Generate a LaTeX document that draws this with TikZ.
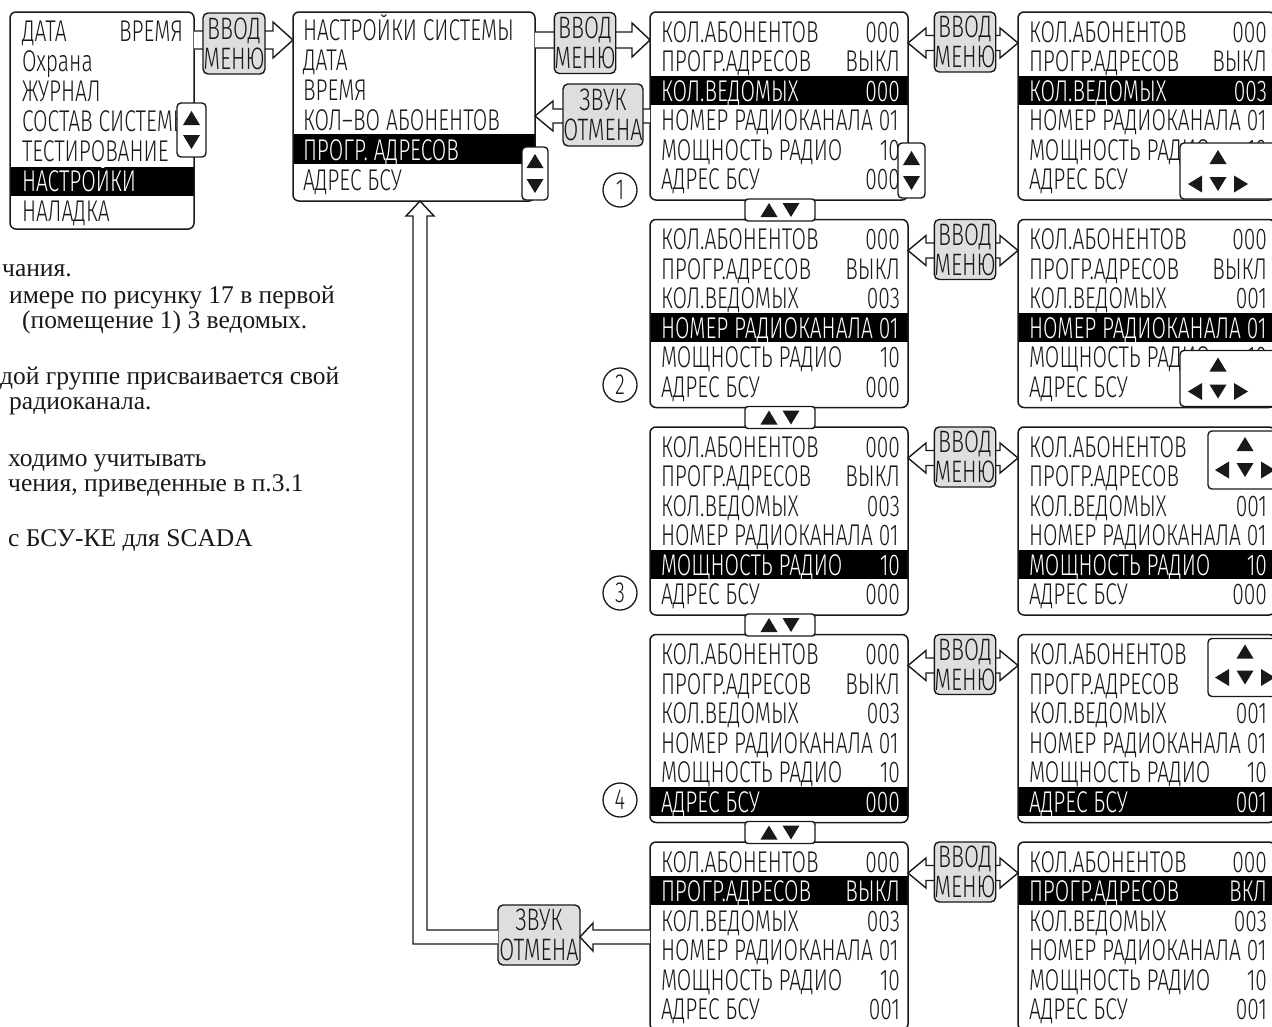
\documentclass[tikz,border=0pt]{standalone}
\usepackage{fontspec}
\newfontfamily\lcdf[FakeStretch=0.70]{Fira Sans Light}
\newfontfamily\serf{Liberation Serif}
\usetikzlibrary{calc}
\definecolor{txt}{gray}{0.1}
\definecolor{btnfill}{gray}{0.87}
\newcount\nodeid
\newcommand\setrc[2]{\ifnum#1=#2\relax\def\rc{white}\else\def\rc{txt}\fi}
\newcommand\srow[6]{%
 \global\advance\nodeid by 1 \edef\nn{n\the\nodeid}%
 \node[lcd,anchor=base west,text=\rc] (\nn) at ({#1+11},{#3+30+29.5*#4}) {#5};
 \global\advance\nodeid by 1 \edef\nn{n\the\nodeid}%
 \node[lcd,anchor=base east,text=\rc] (\nn) at ({#2-8},{#3+30+29.5*#4}) {#6};}
\newcommand\slab[4]{%
 \global\advance\nodeid by 1 \edef\nn{n\the\nodeid}%
 \node[lcd,anchor=base west,text=\rc] (\nn) at ({#1+11},{#2+30+29.5*#3}) {#4};}
% name, left, right, top, highlighted row, values of rows 0,1,2,5
\newcommand\screen[9]{%
 \fill[black] (#2,{#4+4.5+29.5*#5}) rectangle (#3,{#4+33.5+29.5*#5});
 \node[scr,minimum width={#3-#2},minimum height=188,anchor=north west] (#1) at (#2,#4) {};
 \setrc{#5}{0}\srow{#2}{#3}{#4}{0}{КОЛ.АБОНЕНТОВ}{#6}
 \setrc{#5}{1}\srow{#2}{#3}{#4}{1}{ПРОГР.АДРЕСОВ}{#7}
 \setrc{#5}{2}\srow{#2}{#3}{#4}{2}{КОЛ.ВЕДОМЫХ}{#8}
 \setrc{#5}{3}\slab{#2}{#4}{3}{НОМЕР РАДИОКАНАЛА 01}
 \setrc{#5}{4}\srow{#2}{#3}{#4}{4}{МОЩНОСТЬ РАДИО}{10}
 \setrc{#5}{5}\srow{#2}{#3}{#4}{5}{АДРЕС БСУ}{#9}}
% hollow arrows: from, to, centre y, shaft half width, head half width, head length
\newcommand\arrR[6]{\path[hol] let \p1=(#1.east), \p2=(#2.west) in
 (\x1,{-(#3-#4)*1pt}) -- ({\x2-#6pt},{-(#3-#4)*1pt}) -- ({\x2-#6pt},{-(#3-#5)*1pt}) -- (\x2,{-#3pt})
 -- ({\x2-#6pt},{-(#3+#5)*1pt}) -- ({\x2-#6pt},{-(#3+#4)*1pt}) -- (\x1,{-(#3+#4)*1pt});}
\newcommand\arrL[6]{\path[hol] let \p1=(#1.west), \p2=(#2.east) in
 (\x1,{-(#3-#4)*1pt}) -- ({\x2+#6pt},{-(#3-#4)*1pt}) -- ({\x2+#6pt},{-(#3-#5)*1pt}) -- (\x2,{-#3pt})
 -- ({\x2+#6pt},{-(#3+#5)*1pt}) -- ({\x2+#6pt},{-(#3+#4)*1pt}) -- (\x1,{-(#3+#4)*1pt});}
\newcommand\arrLR[6]{\path[hol] let \p1=(#1.east), \p2=(#2.west) in
 (\x1,{-#3pt}) -- ({\x1+#6pt},{-(#3-#5)*1pt}) -- ({\x1+#6pt},{-(#3-#4)*1pt}) -- ({\x2-#6pt},{-(#3-#4)*1pt})
 -- ({\x2-#6pt},{-(#3-#5)*1pt}) -- (\x2,{-#3pt}) -- ({\x2-#6pt},{-(#3+#5)*1pt}) -- ({\x2-#6pt},{-(#3+#4)*1pt})
 -- ({\x1+#6pt},{-(#3+#4)*1pt}) -- ({\x1+#6pt},{-(#3+#5)*1pt}) -- cycle;}
% triangles
\newcommand\tU[2]{\fill[txt] ({#1-8.5},{#2+7}) -- ({#1+8.5},{#2+7}) -- (#1,{#2-7}) -- cycle;}
\newcommand\tD[2]{\fill[txt] ({#1-8.5},{#2-7}) -- ({#1+8.5},{#2-7}) -- (#1,{#2+7}) -- cycle;}
\newcommand\tLf[2]{\fill[txt] ({#1+7},{#2-8.5}) -- ({#1+7},{#2+8.5}) -- ({#1-7},#2) -- cycle;}
\newcommand\tRt[2]{\fill[txt] ({#1-7},{#2-8.5}) -- ({#1-7},{#2+8.5}) -- ({#1+7},#2) -- cycle;}
\begin{document}
\begin{tikzpicture}[x=1pt,y=-1pt,
 scr/.style={draw=txt,line width=1.5pt,rounded corners=6pt,inner sep=0pt,outer sep=0pt},
 ov/.style={draw=txt,fill=white,line width=1.4pt,rounded corners=4pt,inner sep=0pt,outer sep=0pt,anchor=north west},
 btn/.style={draw=txt,fill=btnfill,line width=1.4pt,rounded corners=5pt,inner sep=0pt,outer sep=0pt,align=center,text=txt,font=\lcdf\fontsize{31}{30}\selectfont},
 hol/.style={draw=txt,line width=1.4pt,fill=white,line join=miter},
 lcd/.style={inner sep=0pt,outer sep=0pt,font=\lcdf\fontsize{30}{30}\selectfont},
 ser/.style={inner sep=0pt,anchor=base west,text=txt,font=\serf\fontsize{25.5}{25}\selectfont},
 circ/.style={circle,draw=txt,line width=1.3pt,minimum size=34pt,inner sep=0pt,text=txt,font=\lcdf\fontsize{29}{29}\selectfont}]
\useasboundingbox (0,0) rectangle (1272,1026);
\fill[white] (0,0) rectangle (1272,1026);

% ---- main menu
\fill[black] (10,166.5) rectangle (194,195.5);
\node[scr,minimum width=184,minimum height=217,anchor=north west] (A) at (10,12) {};
\node[lcd,anchor=base west,text=txt] (a1) at (22,41.5) {ДАТА};
\node[lcd,anchor=base east,text=txt] (a2) at (183,41.5) {ВРЕМЯ};
\node[lcd,anchor=base west,text=txt] (a3) at (22,71.5) {Охрана};
\node[lcd,anchor=base west,text=txt] (a4) at (22,101.5) {ЖУРНАЛ};
\node[lcd,anchor=base west,text=txt] (a5) at (22,131.5) {СОСТАВ СИСТЕМЫ};
\node[lcd,anchor=base west,text=txt] (a6) at (22,161.5) {ТЕСТИРОВАНИЕ};
\node[lcd,anchor=base west,text=white] (a7) at (22,191.5) {НАСТРОЙКИ};
\node[lcd,anchor=base west,text=txt] (a8) at (22,221.5) {НАЛАДКА};

% ---- settings menu
\fill[black] (293,134) rectangle (535,164);
\node[scr,minimum width=242,minimum height=189,anchor=north west] (B) at (293,12) {};
\node[lcd,anchor=base west,text=txt] (b1) at (303,40) {НАСТРОЙКИ СИСТЕМЫ};
\node[lcd,anchor=base west,text=txt] (b2) at (303,70) {ДАТА};
\node[lcd,anchor=base west,text=txt] (b3) at (303,100) {ВРЕМЯ};
\node[lcd,anchor=base west,text=txt] (b4) at (303,130) {КОЛ–ВО АБОНЕНТОВ};
\node[lcd,anchor=base west,text=white] (b5) at (303,160) {ПРОГР. АДРЕСОВ};
\node[lcd,anchor=base west,text=txt] (b6) at (303,190) {АДРЕС БСУ};

% ---- screens
\screen{C1}{650}{908}{12}{2}{000}{ВЫКЛ}{000}{000}
\screen{D1}{1018}{1275}{12}{2}{000}{ВЫКЛ}{003}{000}
\screen{C2}{650}{908}{219.5}{3}{000}{ВЫКЛ}{003}{000}
\screen{D2}{1018}{1275}{219.5}{3}{000}{ВЫКЛ}{001}{000}
\screen{C3}{650}{908}{427}{4}{000}{ВЫКЛ}{003}{000}
\screen{D3}{1018}{1275}{427}{4}{000}{ВЫКЛ}{001}{000}
\screen{C4}{650}{908}{634.5}{5}{000}{ВЫКЛ}{003}{000}
\screen{D4}{1018}{1275}{634.5}{5}{000}{ВЫКЛ}{001}{001}
\screen{C5}{650}{908}{842}{1}{000}{ВЫКЛ}{003}{001}
\screen{D5}{1018}{1275}{842}{1}{000}{ВКЛ}{003}{001}

\node[btn,minimum width=82,minimum height=60] (Z2) at (539,935) {ЗВУК\\ОТМЕНА};

% ---- connectors
\arrR{A}{B}{40}{9}{18}{20}
\arrR{B}{C1}{40}{8}{17}{18}
\arrL{C1}{B}{116}{7}{15}{18}
\arrLR{C1}{D1}{43}{7.5}{15}{18}
\arrLR{C2}{D2}{250.5}{7.5}{15}{18}
\arrLR{C3}{D3}{458}{7.5}{15}{18}
\arrLR{C4}{D4}{665.5}{7.5}{15}{18}
\arrLR{C5}{D5}{873}{7.5}{15}{18}
\arrL{C5}{Z2}{937}{7}{14}{13}
\path[hol] let \p1=(Z2.west), \p2=(B.south) in
 (\x1,-930pt) -- (427pt,-930pt) -- (427pt,\y2-15pt) -- (434pt,\y2-15pt) -- (420pt,\y2)
 -- (406pt,\y2-15pt) -- (413pt,\y2-15pt) -- (413pt,-944pt) -- (\x1,-944pt);

% ---- buttons
\node[btn,minimum width=62,minimum height=61] (V1) at (234,43.5) {ВВОД\\МЕНЮ};
\node[btn,minimum width=60,minimum height=61] (V2) at (585,43) {ВВОД\\МЕНЮ};
\node[btn,minimum width=80,minimum height=62] (Z1) at (603,115) {ЗВУК\\ОТМЕНА};
\node[btn,minimum width=56,minimum height=60] (V3) at (965,42) {ВВОД\\МЕНЮ};
\node[btn,minimum width=56,minimum height=60] (V4) at (965,249.5) {ВВОД\\МЕНЮ};
\node[btn,minimum width=56,minimum height=60] (V5) at (965,457) {ВВОД\\МЕНЮ};
\node[btn,minimum width=56,minimum height=60] (V6) at (965,664.5) {ВВОД\\МЕНЮ};
\node[btn,minimum width=56,minimum height=60] (V7) at (965,872) {ВВОД\\МЕНЮ};

% ---- scroll keys
\node[ov,minimum width=29,minimum height=54] (sA) at (177,103) {};
\tU{191.5}{118}\tD{191.5}{142}
\node[ov,minimum width=26,minimum height=53] (sB) at (522,147) {};
\tU{535}{161}\tD{535}{186}
\node[ov,minimum width=27,minimum height=55] (sC) at (898,143) {};
\tU{911.5}{158}\tD{911.5}{183}
\node[ov,minimum width=70,minimum height=22,rounded corners=3pt] (tab1) at (745,199) {};
\tU{769}{210}\tD{791}{210}
\node[ov,minimum width=70,minimum height=22,rounded corners=3pt] (tab2) at (745,406.5) {};
\tU{769}{417.5}\tD{791}{417.5}
\node[ov,minimum width=70,minimum height=22,rounded corners=3pt] (tab3) at (745,614) {};
\tU{769}{625}\tD{791}{625}
\node[ov,minimum width=70,minimum height=22,rounded corners=3pt] (tab4) at (745,821.5) {};
\tU{769}{832.5}\tD{791}{832.5}
\node[ov,minimum width=110,minimum height=56] (f1) at (1180,143) {};
\tU{1218}{157}\tLf{1195}{184}\tD{1218}{184}\tRt{1241}{184}
\node[ov,minimum width=110,minimum height=56] (f2) at (1180,350.5) {};
\tU{1218}{364.5}\tLf{1195}{391.5}\tD{1218}{391.5}\tRt{1241}{391.5}
\node[ov,minimum width=90,minimum height=58] (f3) at (1208,431) {};
\tU{1245}{444}\tLf{1222}{470}\tD{1245}{470}\tRt{1268}{470}
\node[ov,minimum width=90,minimum height=58] (f4) at (1208,638.5) {};
\tU{1245}{651.5}\tLf{1222}{677.5}\tD{1245}{677.5}\tRt{1268}{677.5}

% ---- step numbers
\node[circ] (k1) at (620,190) {1};
\node[circ] (k2) at (620,385) {2};
\node[circ] (k3) at (620,593) {3};
\node[circ] (k4) at (620,800) {4};

% ---- page text
\node[ser] (p1) at (2,276) {чания.};
\node[ser] (p2) at (9,303) {имере по рисунку 17 в первой};
\node[ser] (p3) at (22,328) {(помещение 1) 3 ведомых.};
\node[ser] (p4) at (0,384) {дой группе присваивается свой};
\node[ser] (p5) at (9,409) {радиоканала.};
\node[ser] (p6) at (8,466) {ходимо учитывать};
\node[ser] (p7) at (8,491) {чения, приведенные в п.3.1};
\node[ser] (p8) at (8,546) {с БСУ-КЕ для SCADA};
\end{tikzpicture}
\end{document}
